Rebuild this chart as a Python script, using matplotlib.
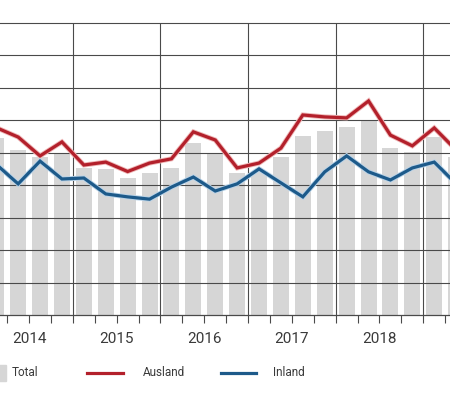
import matplotlib
matplotlib.use("Agg")
import matplotlib.pyplot as plt
import matplotlib.patheffects as pe
from matplotlib.lines import Line2D
from matplotlib.patches import Rectangle
import numpy as np

# quarterly series, 2014 Q1 .. 2019 Q2
quarters = [
    "2014Q1", "2014Q2", "2014Q3", "2014Q4",
    "2015Q1", "2015Q2", "2015Q3", "2015Q4",
    "2016Q1", "2016Q2", "2016Q3", "2016Q4",
    "2017Q1", "2017Q2", "2017Q3", "2017Q4",
    "2018Q1", "2018Q2", "2018Q3", "2018Q4",
    "2019Q1", "2019Q2",
]
total = [54.6, 51.0, 48.8, 50.1, 45.4, 45.1, 42.3, 43.8, 45.4, 53.1, 49.7,
         43.8, 44.6, 48.8, 55.2, 56.8, 58.0, 60.2, 51.5, 50.3, 54.9, 48.8]
ausland = [57.8, 54.9, 49.1, 53.4, 46.3, 47.2, 44.3, 46.9, 48.2, 56.5, 54.0,
           45.4, 46.9, 51.5, 61.7, 61.1, 60.8, 66.0, 55.5, 52.2, 57.7, 50.9]
inland = [46.5, 40.5, 47.5, 42.0, 42.3, 37.4, 36.5, 35.8, 39.5, 42.6, 38.3,
          40.5, 45.1, 40.8, 36.5, 44.2, 49.1, 44.2, 41.7, 45.4, 47.2, 40.5]
years = ["2014", "2015", "2016", "2017", "2018", "2019"]

GRID = "#4a4a4a"
TEXT = "#3a3a3a"
RED = "#b3202b"
BLUE = "#1d5a8a"
BAR = "#d6d6d6"

plt.rcParams["font.family"] = ["Roboto", "DejaVu Sans"]

fig = plt.figure(figsize=(4.5, 3.95), dpi=100)
ax = fig.add_axes([0.0, 0.2013, 1.0, 0.7405])

x = np.arange(len(quarters))
ax.bar(x, total, width=0.73, color=BAR, zorder=1)

halo_r = [pe.Stroke(linewidth=3.6, foreground="#efb8b8"), pe.Normal()]
halo_b = [pe.Stroke(linewidth=3.6, foreground="#b9d3e8"), pe.Normal()]
ax.plot(x, ausland, color=RED, lw=2.3, zorder=4, solid_joinstyle="miter",
        path_effects=halo_r)
ax.plot(x, inland, color=BLUE, lw=2.3, zorder=4, solid_joinstyle="miter",
        path_effects=halo_b)

# horizontal grid
ax.set_yticks(np.arange(10, 90, 10))
ax.tick_params(axis="y", length=0, labelleft=False)
ax.grid(axis="y", color=GRID, lw=0.8, zorder=2)
ax.set_axisbelow(False)

# year boundaries
for b in np.arange(3.5, len(quarters), 4):
    ax.axvline(b, color=GRID, lw=0.8, zorder=2)

# quarter ticks and year labels
ax.set_xticks(np.arange(0.5, len(quarters), 1), minor=True)
ax.set_xticks([])
ax.tick_params(axis="x", which="minor", length=6, width=0.8, color=GRID,
               direction="out")
year_centers = np.arange(-0.5, len(quarters), 4) + 2
for xc, yr in zip(year_centers, years):
    ax.annotate(yr, (xc, 0), xytext=(0, -12), textcoords="offset points",
                ha="center", va="top", fontsize=11, color=TEXT,
                annotation_clip=False)

ax.set_xlim(0.171, 20.72)
ax.set_ylim(0, 90)

for s in ["left", "right"]:
    ax.spines[s].set_visible(False)
ax.spines["top"].set_color(GRID)
ax.spines["top"].set_linewidth(0.8)
ax.spines["bottom"].set_color(GRID)
ax.spines["bottom"].set_linewidth(0.9)

# legend
ly = 0.0557
fig.patches.append(Rectangle((-0.02, ly - 0.019), 0.033, 0.038,
                             transform=fig.transFigure, color=BAR))
fig.text(0.027, ly, "Total", fontsize=8.5, color=TEXT, va="center")
fig.lines.append(Line2D([0.193, 0.273], [ly, ly], transform=fig.transFigure,
                        color=RED, lw=2.3))
fig.text(0.318, ly, "Ausland", fontsize=8.5, color=TEXT, va="center")
fig.lines.append(Line2D([0.491, 0.569], [ly, ly], transform=fig.transFigure,
                        color=BLUE, lw=2.3))
fig.text(0.607, ly, "Inland", fontsize=8.5, color=TEXT, va="center")

fig.savefig("out.png", dpi=100)
